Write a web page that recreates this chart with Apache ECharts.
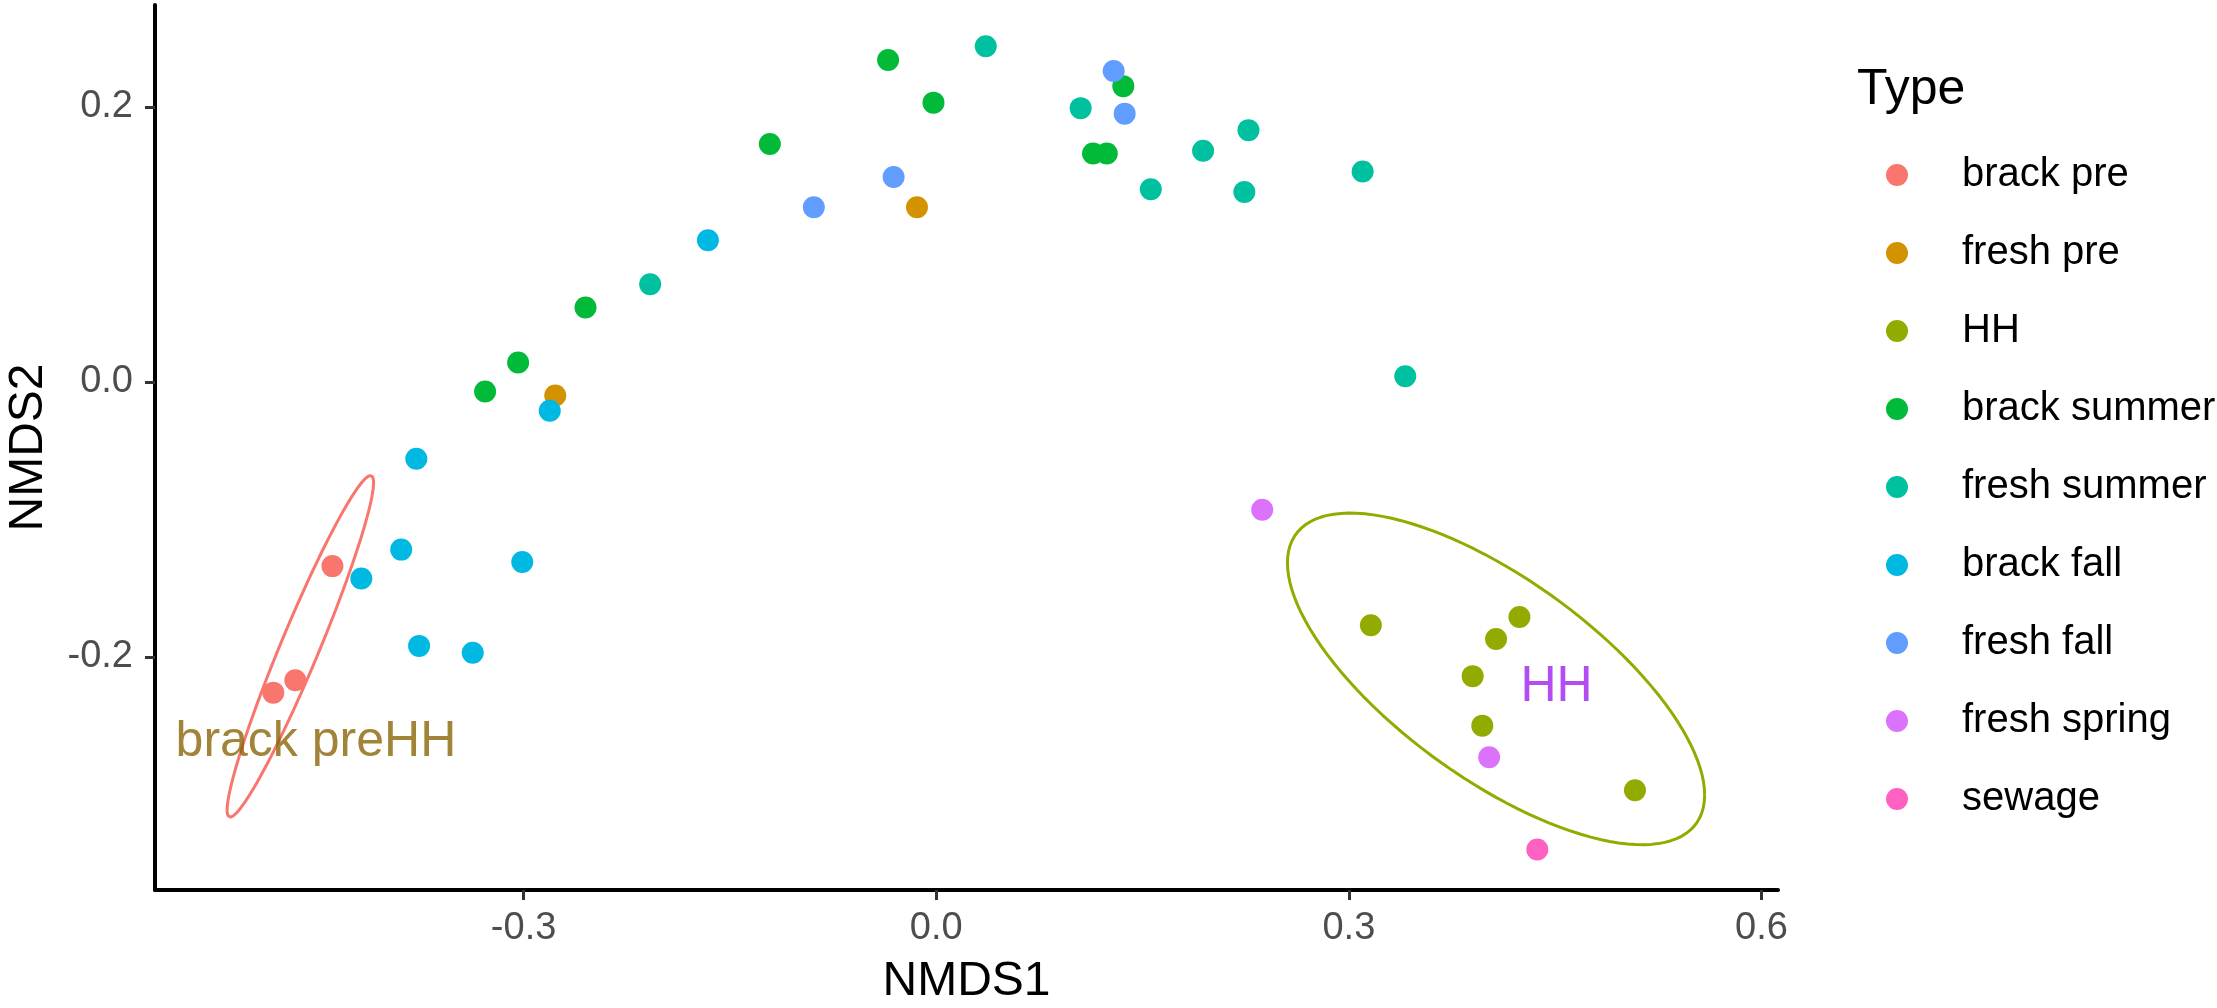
<!DOCTYPE html>
<html>
<head>
<meta charset="utf-8">
<title>NMDS</title>
<script src="https://cdn.jsdelivr.net/npm/echarts@6/dist/echarts.min.js"></script>
<style>
  html, body { margin: 0; padding: 0; background: #fff; }
  #chart { width: 2217px; height: 1008px; }
</style>
</head>
<body>
<div id="chart"></div>
<script>
// NMDS scores, one array per sample type: [NMDS1, NMDS2]
const brackPre = [[-0.439, -0.134], [-0.466, -0.217], [-0.482, -0.226]];
const freshPre = [[-0.014, 0.127], [-0.277, -0.010]];
const hh = [[0.316, -0.177], [0.424, -0.171], [0.407, -0.187], [0.390, -0.214], [0.397, -0.250], [0.508, -0.297]];
const brackSummer = [[-0.328, -0.007], [-0.304, 0.014], [-0.255, 0.054], [-0.121, 0.173], [-0.035, 0.234],
                     [-0.002, 0.203], [0.114, 0.166], [0.124, 0.166], [0.136, 0.215]];
const freshSummer = [[-0.208, 0.071], [0.036, 0.244], [0.105, 0.199], [0.156, 0.140], [0.194, 0.168],
                     [0.224, 0.138], [0.227, 0.183], [0.310, 0.153], [0.341, 0.004]];
const brackFall = [[-0.418, -0.143], [-0.389, -0.122], [-0.378, -0.056], [-0.376, -0.192],
                   [-0.337, -0.197], [-0.301, -0.131], [-0.281, -0.021], [-0.166, 0.103]];
const freshFall = [[-0.089, 0.127], [-0.031, 0.149], [0.129, 0.226], [0.137, 0.195]];
const freshSpring = [[0.237, -0.093], [0.402, -0.273]];
const sewage = [[0.437, -0.340]];

const typeNames = ['brack pre', 'fresh pre', 'HH', 'brack summer', 'fresh summer', 'brack fall', 'fresh fall', 'fresh spring', 'sewage'];
const typePoints = [brackPre, freshPre, hh, brackSummer, freshSummer, brackFall, freshFall, freshSpring, sewage];
const typeColors = ['#F8766D', '#D39200', '#93AA00', '#00BA38', '#00C19F', '#00B9E3', '#619CFF', '#DB72FB', '#FF61C3'];

const xTicks = [-0.3, 0, 0.3, 0.6];
const yTicks = [-0.2, 0, 0.2];
const xRange = [-0.568, 0.612];
const yRange = [-0.3695, 0.274];

// groups that get a confidence ellipse, and the radius that matches the picture
const ellipseGroups = ['brack pre', 'HH'];
const ellipseRadius = 2.45;

const noteTexts = ['brack preHH', 'HH'];
const notePos = [[-0.451, -0.262], [0.451, -0.222]];
const noteColors = ['#8B6508', '#A020F0'];

const FONT = '"Liberation Sans", Arial, sans-serif';

// ellipse from mean + covariance of the group (like stat_ellipse)
function ellipseOf(pts, r) {
  const n = pts.length;
  let mx = 0, my = 0;
  pts.forEach(p => { mx += p[0]; my += p[1]; });
  mx /= n; my /= n;
  let sxx = 0, syy = 0, sxy = 0;
  pts.forEach(p => {
    const dx = p[0] - mx, dy = p[1] - my;
    sxx += dx * dx; syy += dy * dy; sxy += dx * dy;
  });
  sxx /= (n - 1); syy /= (n - 1); sxy /= (n - 1);
  const a = Math.sqrt(sxx), b = sxy / a, c = Math.sqrt(Math.max(syy - b * b, 0));
  const out = [];
  for (let i = 0; i <= 120; i++) {
    const t = 2 * Math.PI * i / 120;
    const u = Math.cos(t), v = Math.sin(t);
    out.push([mx + r * u * a, my + r * (u * b + v * c)]);
  }
  return out;
}

const series = [];
typeNames.forEach((name, i) => {
  series.push({
    name: name,
    type: 'scatter',
    symbol: 'circle',
    symbolSize: 22,
    itemStyle: { color: typeColors[i], opacity: 1 },
    data: typePoints[i],
    z: 2
  });
});
ellipseGroups.forEach(g => {
  const i = typeNames.indexOf(g);
  series.push({
    name: g + ' ellipse',
    type: 'line',
    showSymbol: false,
    symbol: 'none',
    silent: true,
    lineStyle: { color: typeColors[i], width: 3 },
    data: ellipseOf(typePoints[i], ellipseRadius),
    z: 3
  });
});
series.push({
  name: 'notes',
  type: 'scatter',
  symbolSize: 0,
  silent: true,
  z: 4,
  data: noteTexts.map((t, i) => ({
    name: t,
    value: notePos[i],
    label: { color: noteColors[i] }
  })),
  label: {
    show: true,
    position: 'inside',
    formatter: p => p.name,
    fontSize: 50,
    fontFamily: FONT
  }
});

const chart = echarts.init(document.getElementById('chart'));
chart.setOption({
  animation: false,
  backgroundColor: '#fff',
  title: {
    text: 'Type',
    left: 1852,
    top: 60,
    textStyle: { fontSize: 50, fontWeight: 'normal', color: '#000', fontFamily: FONT }
  },
  legend: {
    data: typeNames,
    orient: 'vertical',
    left: 1881,
    top: 150,
    icon: 'circle',
    itemWidth: 22,
    itemHeight: 22,
    itemGap: 38,
    textStyle: { fontSize: 40, color: '#000', fontFamily: FONT, lineHeight: 40, padding: [0, 0, 0, 49] }
  },
  grid: { left: 155, right: 439, top: 5, bottom: 118, containLabel: false, outerBoundsMode: 'none' },
  xAxis: {
    type: 'value',
    min: xRange[0],
    max: xRange[1],
    splitLine: { show: false },
    axisLine: { show: true, onZero: false, lineStyle: { color: '#000', width: 4 } },
    axisTick: { show: true, customValues: xTicks, length: 10, lineStyle: { color: '#333', width: 3 } },
    axisLabel: {
      customValues: xTicks,
      formatter: v => v.toFixed(1),
      fontSize: 38, color: '#4D4D4D', margin: 20, fontFamily: FONT
    },
    name: 'NMDS1',
    nameLocation: 'middle',
    nameGap: 68,
    nameTextStyle: { fontSize: 48, color: '#000', fontFamily: FONT }
  },
  yAxis: {
    type: 'value',
    min: yRange[0],
    max: yRange[1],
    splitLine: { show: false },
    axisLine: { show: true, onZero: false, lineStyle: { color: '#000', width: 4 } },
    axisTick: { show: true, customValues: yTicks, length: 10, lineStyle: { color: '#333', width: 3 } },
    axisLabel: {
      customValues: yTicks,
      formatter: v => v.toFixed(1),
      fontSize: 38, color: '#4D4D4D', margin: 22, fontFamily: FONT
    },
    name: 'NMDS2',
    nameLocation: 'middle',
    nameRotate: 90,
    nameGap: 102,
    nameTextStyle: { fontSize: 48, color: '#000', fontFamily: FONT }
  },
  series: series
});
</script>
</body>
</html>
